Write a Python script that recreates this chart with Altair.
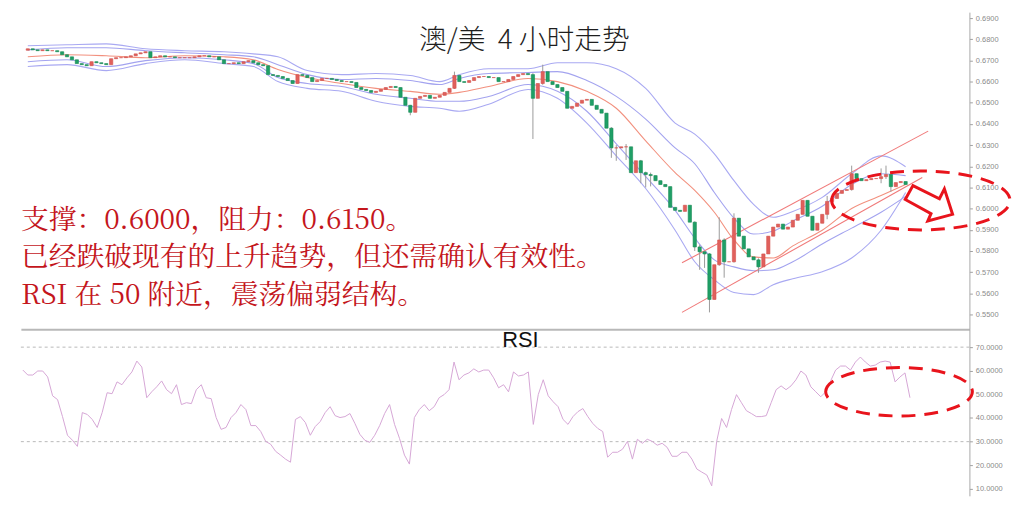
import altair as alt
import pandas as pd

# ---------------- data ----------------
close = [
    0.6755, 0.6750, 0.6746, 0.6750, 0.6746, 0.6746, 0.6741, 0.6727, 0.6717, 0.6703,
    0.6685, 0.6680, 0.6675, 0.6694, 0.6689, 0.6685, 0.6680, 0.6708, 0.6713, 0.6713,
    0.6717, 0.6722, 0.6731, 0.6736, 0.6741, 0.6713, 0.6717, 0.6722, 0.6717, 0.6717,
    0.6713, 0.6713, 0.6713, 0.6713, 0.6717, 0.6722, 0.6722, 0.6717, 0.6717, 0.6703,
    0.6685, 0.6685, 0.6689, 0.6685, 0.6694, 0.6699, 0.6689, 0.6680, 0.6675, 0.6633,
    0.6629, 0.6624, 0.6615, 0.6605, 0.6591, 0.6633, 0.6629, 0.6619, 0.6600, 0.6605,
    0.6615, 0.6615, 0.6610, 0.6605, 0.6600, 0.6600, 0.6596, 0.6572, 0.6563, 0.6558,
    0.6549, 0.6554, 0.6563, 0.6572, 0.6577, 0.6572, 0.6526, 0.6488, 0.6455, 0.6521,
    0.6530, 0.6535, 0.6521, 0.6526, 0.6535, 0.6549, 0.6568, 0.6629, 0.6600, 0.6596,
    0.6605, 0.6619, 0.6624, 0.6624, 0.6619, 0.6619, 0.6600, 0.6600, 0.6610, 0.6624,
    0.6633, 0.6638, 0.6633, 0.6521, 0.6591, 0.6647, 0.6600, 0.6586, 0.6572, 0.6554,
    0.6474, 0.6483, 0.6498, 0.6512, 0.6516, 0.6488, 0.6469, 0.6451, 0.6380, 0.6287,
    0.6287, 0.6292, 0.6292, 0.6170, 0.6226, 0.6170, 0.6161, 0.6156, 0.6132, 0.6114,
    0.6104, 0.6006, 0.5992, 0.5987, 0.6016, 0.5936, 0.5819, 0.5796, 0.5786, 0.5571,
    0.5735, 0.5852, 0.5749, 0.5749, 0.5955, 0.5870, 0.5810, 0.5772, 0.5758, 0.5725,
    0.5786, 0.5870, 0.5913, 0.5927, 0.5903, 0.5913, 0.5945, 0.5973, 0.6039, 0.5964,
    0.5898, 0.5931, 0.5973, 0.6034, 0.6048, 0.6072, 0.6086, 0.6090, 0.6165, 0.6142,
    0.6132, 0.6137, 0.6142, 0.6142, 0.6151, 0.6161, 0.6104, 0.6123, 0.6128, 0.6114,
]
first_open = 0.6748

wick_bar = [78, 87, 103, 105, 119, 120, 122, 125, 126, 127, 136, 137, 138, 139,
            141, 142, 144, 149, 163, 168, 174, 175, 176]
wick_high = [0.6490, 0.6647, 0.6640, 0.6680, 0.6385, 0.6300, 0.6305, 0.6230, 0.6175,
             0.6170, 0.5940, 0.5830, 0.5800, 0.5790, 0.5959, 0.5860, 0.5978, 0.5765,
             0.6060, 0.6203, 0.6190, 0.6203, 0.6165]
wick_low = [0.6441, 0.6565, 0.6329, 0.6585, 0.6240, 0.6226, 0.6230, 0.6120, 0.6100,
            0.6105, 0.5800, 0.5711, 0.5720, 0.5510, 0.5730, 0.5674, 0.5745, 0.5697,
            0.5950, 0.6085, 0.6120, 0.6140, 0.6080]

rsi = [
    60.3, 58.2, 58.2, 59.9, 59.9, 57.4, 49.4, 47.8, 40.6, 32.7,
    30.6, 28.0, 42.3, 41.5, 39.4, 36.0, 42.3, 50.7, 50.3, 55.3,
    54.1, 57.0, 59.5, 64.1, 61.6, 48.6, 51.1, 53.2, 55.7, 52.0,
    50.3, 54.1, 45.7, 46.5, 46.1, 52.0, 54.1, 48.6, 48.2, 40.2,
    35.2, 36.0, 40.2, 42.3, 45.7, 43.6, 36.8, 36.8, 34.3, 30.1,
    28.9, 25.9, 24.3, 22.6, 21.3, 39.4, 40.6, 38.1, 32.7, 36.4,
    38.5, 42.3, 44.8, 41.0, 40.2, 40.6, 41.9, 37.7, 33.1, 30.6,
    29.7, 32.7, 36.8, 41.9, 45.7, 37.3, 31.4, 24.3, 20.5, 40.2,
    43.6, 45.7, 43.1, 44.8, 48.6, 49.9, 52.0, 63.7, 56.2, 58.2,
    59.1, 60.8, 59.5, 60.3, 60.3, 57.0, 52.8, 54.1, 51.1, 59.5,
    57.8, 58.2, 59.5, 37.3, 49.9, 56.2, 49.4, 46.9, 44.8, 39.4,
    37.3, 40.6, 42.7, 44.0, 40.6, 37.7, 35.6, 34.3, 23.4, 25.5,
    25.5, 26.8, 30.1, 22.6, 31.0, 29.3, 31.0, 30.1, 28.5, 29.3,
    27.6, 23.8, 23.8, 25.5, 25.5, 22.6, 18.4, 17.1, 15.9, 11.3,
    30.1, 39.8, 36.0, 43.6, 49.9, 46.5, 43.1, 41.9, 40.6, 40.6,
    41.0, 46.5, 52.0, 53.6, 52.0, 53.6, 56.2, 59.9, 58.2, 53.2,
    51.1, 49.0, 51.1, 55.7, 60.3, 62.0, 62.0, 60.3, 63.7, 65.8,
    63.7, 62.0, 62.4, 63.7, 64.1, 63.7, 55.3, 57.4, 59.1, 48.6,
]

band_bar = [0, 8, 16, 24, 32, 40, 46, 51, 57, 64, 71, 78, 84, 88, 94, 102, 108, 114,
            120, 126, 132, 136, 140, 144, 148, 152, 156, 162, 168, 174, 179]
upper_outer = [0.6769, 0.6774, 0.6778, 0.6755, 0.6746, 0.6741, 0.6731, 0.6717, 0.6652,
               0.6633, 0.6638, 0.6629, 0.6600, 0.6633, 0.6661, 0.6661, 0.6689, 0.6689,
               0.6661, 0.6568, 0.6404, 0.6352, 0.6259, 0.6132, 0.6020, 0.5959, 0.5987,
               0.6053, 0.6165, 0.6249, 0.6198]
upper_inner = [0.6750, 0.6760, 0.6760, 0.6746, 0.6736, 0.6727, 0.6717, 0.6680, 0.6633,
               0.6610, 0.6615, 0.6605, 0.6586, 0.6615, 0.6638, 0.6643, 0.6647, 0.6605,
               0.6530, 0.6423, 0.6287, 0.6212, 0.6076, 0.5955, 0.5880, 0.5894, 0.5941,
               0.6011, 0.6114, 0.6165, 0.6156]
middle = [0.6717, 0.6727, 0.6722, 0.6713, 0.6722, 0.6717, 0.6703, 0.6657, 0.6619,
          0.6591, 0.6568, 0.6554, 0.6540, 0.6549, 0.6577, 0.6615, 0.6600, 0.6554,
          0.6474, 0.6320, 0.6170, 0.6086, 0.5983, 0.5852, 0.5772, 0.5767, 0.5824,
          0.5898, 0.6001, 0.6062, 0.6114]
lower_inner = [0.6694, 0.6703, 0.6671, 0.6699, 0.6713, 0.6703, 0.6685, 0.6619, 0.6591,
               0.6577, 0.6540, 0.6521, 0.6507, 0.6507, 0.6530, 0.6586, 0.6554, 0.6460,
               0.6306, 0.6151, 0.5992, 0.5861, 0.5758, 0.5725, 0.5707, 0.5711, 0.5749,
               0.5833, 0.5908, 0.5983, 0.6058]
lower_outer = [0.6671, 0.6680, 0.6652, 0.6685, 0.6703, 0.6685, 0.6671, 0.6600, 0.6568,
               0.6554, 0.6507, 0.6483, 0.6474, 0.6460, 0.6493, 0.6563, 0.6521, 0.6404,
               0.6249, 0.6095, 0.5898, 0.5749, 0.5664, 0.5604, 0.5594, 0.5641, 0.5669,
               0.5702, 0.5767, 0.5898, 0.6076]

channel_upper_bar = [133.4, 183.6]
channel_upper_price = [0.5744, 0.6366]
channel_lower_bar = [133.4, 182.4]
channel_lower_price = [0.5510, 0.6147]

price_ticks = [0.55, 0.56, 0.57, 0.58, 0.59, 0.60, 0.61, 0.62, 0.63, 0.64, 0.65,
               0.66, 0.67, 0.68, 0.69]
rsi_ticks = [10, 20, 30, 40, 50, 60, 70]
rsi_levels = [70, 30]

NB = "\u00a0"
title_text = "澳/美" + NB + NB + "4" + NB + "小时走势"
note_text = ("支撑：0.6000，阻力：0.6150。\n"
             "已经跌破现有的上升趋势，但还需确认有效性。\n"
             "RSI" + NB + "在" + NB + "50" + NB + "附近，震荡偏弱结构。")
rsi_label = "RSI"

# ---------------- tables ----------------
bars = list(range(len(close)))
opens = [first_open] + close[:-1]
highs = [max(o, c) for o, c in zip(opens, close)]
lows = [min(o, c) for o, c in zip(opens, close)]
for b, h, l in zip(wick_bar, wick_high, wick_low):
    highs[b] = h
    lows[b] = l
candles = pd.DataFrame({"bar": bars, "open": opens, "close": close,
                        "high": highs, "low": lows})

band_names = ["uo", "ui", "mid", "li", "lo"]
band_colors = ["#a9a9f2", "#a3a3ef", "#f2907e", "#a3a3ef", "#a9a9f2"]
band_series = [upper_outer, upper_inner, middle, lower_inner, lower_outer]
channels = pd.concat([
    pd.DataFrame({"bar": channel_upper_bar, "price": channel_upper_price, "line": "up"}),
    pd.DataFrame({"bar": channel_lower_bar, "price": channel_lower_price, "line": "low"}),
])
rsi_df = pd.DataFrame({"bar": bars, "rsi": rsi})
levels_df = pd.DataFrame({"level": rsi_levels})
one = pd.DataFrame({"k": [0]})

# ---------------- encodings ----------------
W = 957
H_TOP = 320
H_BOT = 168
x_dom = [-0.4, 191.0]

x_top = alt.X("bar:Q", scale=alt.Scale(domain=x_dom, nice=False, zero=False),
              axis=alt.Axis(labels=False, ticks=False, grid=False, title=None,
                            domainColor="#b8b8b8", domainWidth=2))
x_bot = alt.X("bar:Q", scale=alt.Scale(domain=x_dom, nice=False, zero=False), axis=None)

axis_common = dict(orient="right", format=".4f", grid=False, title=None,
                   labelFontSize=7.5, labelColor="#8a8a8a", labelFont="Liberation Sans",
                   tickColor="#a0a0a0", tickSize=3, domainColor="#a8a8a8",
                   labelPadding=3, labelOverlap=False, labelFlush=False)

price_scale = alt.Scale(domain=[0.5430, 0.6928], nice=False, zero=False)
y_price_axis = alt.Axis(values=price_ticks, **axis_common)


def y_price(field):
    return alt.Y(field, type="quantitative", scale=price_scale, axis=y_price_axis)


# ---------------- top panel ----------------
band_layers = []
for n, s, c in zip(band_names, band_series, band_colors):
    dfb = pd.DataFrame({"bar": band_bar, "price": s})
    band_layers.append(
        alt.Chart(dfb).mark_line(interpolate="monotone", strokeWidth=1.1, color=c).encode(
            x=x_top, y=y_price("price"))
    )

channel_layer = alt.Chart(channels).mark_line(color="#f07a7a", strokeWidth=1.1).encode(
    x=x_top, y=y_price("price"), detail="line:N")

wick_layer = alt.Chart(candles).mark_rule(color="#9a9a9a", strokeWidth=1).encode(
    x=x_top, y=y_price("low"), y2="high:Q")

up_rule = alt.datum.close >= alt.datum.open
body_layer = alt.Chart(candles).mark_bar(width=3.3, strokeWidth=0.6).encode(
    x=x_top,
    y=y_price("open"),
    y2="close:Q",
    color=alt.when(up_rule).then(alt.value("#e0605c")).otherwise(alt.value("#1f9f66")),
    stroke=alt.when(up_rule).then(alt.value("#d4524e")).otherwise(alt.value("#178a55")),
)

title_layer = alt.Chart(one).mark_text(
    text=title_text, font="Noto Sans CJK SC", fontSize=28, fontWeight=300,
    color="#1e1e1e", align="center", baseline="alphabetic").encode(
    x=alt.value(508), y=alt.value(37))

note_layer = alt.Chart(one).mark_text(
    text=note_text, lineBreak="\n", lineHeight=37.5,
    font="'Noto Serif CJK SC', 'Noto Sans CJK SC'",
    fontSize=28, color="#c4161c", align="left", baseline="alphabetic").encode(
    x=alt.value(0), y=alt.value(219))

ellipse_path = "M -1 0 A 1 0.33 0 1 1 1 0 A 1 0.33 0 1 1 -1 0 Z"
arrow_path = ("M -0.64 -0.6 L 0.43 -0.07 L 0.63 -0.47 L 0.96 0.56 L -0.04 0.83 "
              "L 0.09 0.53 L -0.95 -0.04 Z")

ellipse_top = alt.Chart(one).mark_point(
    shape=ellipse_path, size=32400, filled=False, stroke="#e8141c", strokeWidth=3,
    strokeDash=[14, 9], opacity=1).encode(x=alt.value(908), y=alt.value(190))

arrow_layer = alt.Chart(one).mark_point(
    shape=arrow_path, size=2500, filled=True, fill="white", stroke="#e8141c",
    strokeWidth=3, opacity=1, fillOpacity=1).encode(x=alt.value(916), y=alt.value(190))

top = alt.layer(*band_layers, channel_layer, wick_layer, body_layer, title_layer,
                note_layer, ellipse_top, arrow_layer).properties(
    width=W, height=H_TOP, view=alt.ViewBackground(strokeOpacity=0, strokeWidth=0))

# ---------------- RSI panel ----------------
rsi_scale = alt.Scale(domain=[7.06, 77.55], nice=False, zero=False)
y_rsi_axis = alt.Axis(values=rsi_ticks, **axis_common)

level_layer = alt.Chart(levels_df).mark_rule(color="#b8b8b8", strokeWidth=1,
                                             strokeDash=[3, 3]).encode(
    y=alt.Y("level:Q", scale=rsi_scale, axis=y_rsi_axis))

rsi_layer = alt.Chart(rsi_df).mark_line(color="#d6a6d6", strokeWidth=1).encode(
    x=x_bot, y=alt.Y("rsi:Q", scale=rsi_scale, axis=y_rsi_axis))

rsi_text = alt.Chart(one).mark_text(
    text=rsi_label, font="Liberation Sans", fontSize=22, color="#111111",
    align="center", baseline="alphabetic").encode(x=alt.value(504), y=alt.value(18))

ellipse_rsi = alt.Chart(one).mark_point(
    shape=ellipse_path, size=21904, filled=False, stroke="#e8141c", strokeWidth=3,
    strokeDash=[14, 9], opacity=1).encode(x=alt.value(886), y=alt.value(63))

bottom = alt.layer(level_layer, rsi_layer, rsi_text, ellipse_rsi).properties(
    width=W, height=H_BOT, view=alt.ViewBackground(strokeOpacity=0, strokeWidth=0))

chart = alt.vconcat(top, bottom, spacing=0).properties(
    padding={"left": 12, "top": 2, "right": 0, "bottom": 0},
    background="white",
).configure_view(strokeOpacity=0, strokeWidth=0).configure_axis(labelOverlap=False)

chart.save("out.html", embed_options={"renderer": "svg", "actions": False})
